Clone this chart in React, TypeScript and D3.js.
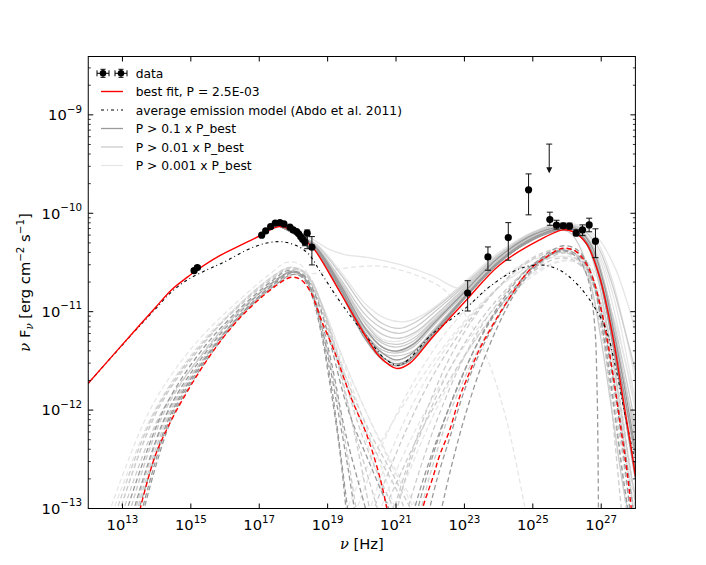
import React from "react";
import * as d3 from "d3";

type P = [number, number];

// ---------- data (log10 nu [Hz], log10 nuFnu [erg cm^-2 s^-1]) ----------
const X_TICK_EXP = [13, 15, 17, 19, 21, 23, 25, 27];
const Y_TICK_EXP = [-13, -12, -11, -10, -9];

// observed points: [log nu, log nuFnu, log lower, log upper]
const syncData: [number, number, number, number][] = [
  [15.095, -10.583, -10.6, -10.565],
  [15.191, -10.552, -10.57, -10.535],
  [17.072, -10.223, -10.223, -10.223],
  [17.188, -10.179, -10.179, -10.179],
  [17.334, -10.135, -10.135, -10.135],
  [17.469, -10.101, -10.101, -10.101],
  [17.606, -10.095, -10.095, -10.095],
  [17.723, -10.108, -10.108, -10.108],
  [17.898, -10.141, -10.141, -10.141],
  [17.994, -10.169, -10.169, -10.169],
  [18.094, -10.186, -10.186, -10.186],
  [18.152, -10.209, -10.209, -10.209],
  [18.21, -10.237, -10.237, -10.237],
  [18.269, -10.263, -10.263, -10.263],
  [18.336, -10.291, -10.33, -10.25],
  [18.403, -10.202, -10.36, -10.17],
  [18.54, -10.345, -10.525, -10.237],
];
const gammaData: [number, number, number, number][] = [
  [23.095, -10.81, -10.993, -10.685],
  [23.688, -10.444, -10.579, -10.342],
  [24.283, -10.247, -10.477, -10.095],
  [24.876, -9.762, -10.016, -9.6],
  [25.498, -10.064, -10.122, -9.989],
  [25.693, -10.121, -10.161, -10.071],
  [25.889, -10.128, -10.155, -10.1],
  [26.073, -10.131, -10.158, -10.1],
  [26.269, -10.202, -10.227, -10.168],
  [26.453, -10.169, -10.227, -10.118],
  [26.648, -10.118, -10.188, -10.05],
  [26.832, -10.284, -10.451, -10.158],
];
// upper limit: [log nu, log top, log arrow tip]
const upperLimit: [number, number, number] = [25.48, -9.297, -9.582];

const bestTotal: P[] = [
  [12.0, -11.728], [13.46, -11.153], [13.947, -10.965], [14.432, -10.779], [14.92, -10.644],
  [15.212, -10.569], [15.796, -10.44], [16.4, -10.335], [17.06, -10.22], [17.31, -10.169],
  [17.6, -10.135], [17.84, -10.152], [18.07, -10.199], [18.33, -10.271], [18.62, -10.372],
  [19.36, -10.8], [20.18, -11.288], [20.53, -11.461], [21.01, -11.576], [21.4, -11.525],
  [22.08, -11.254], [23.06, -10.881], [24.03, -10.525], [25.2, -10.271], [25.88, -10.169],
  [26.17, -10.186], [26.56, -10.304], [26.95, -10.644], [27.34, -11.254], [27.63, -11.865],
  [27.87, -12.373], [28.0, -12.67],
];
const bestSync: P[] = [
  [13.509, -13.015], [13.947, -12.475], [14.432, -12.102], [14.92, -11.797], [15.407, -11.525],
  [15.892, -11.287], [16.38, -11.084], [16.867, -10.915], [17.451, -10.746], [17.936, -10.65],
  [18.228, -10.678], [18.52, -10.813], [18.812, -11.084], [19.182, -11.39], [19.679, -11.868],
  [20.146, -12.254], [20.526, -12.682], [20.73, -12.997], [20.76, -13.05],
];
const bestSSC: P[] = [
  [21.76, -13.05], [21.79, -12.984], [22.082, -12.679], [22.277, -12.458], [22.569, -12.203],
  [22.861, -11.865], [23.057, -11.695], [23.445, -11.38], [23.84, -11.13], [24.225, -10.91],
  [24.905, -10.576], [25.489, -10.423], [25.877, -10.355], [26.268, -10.39],
  [26.657, -10.576], [27.045, -11.049], [27.337, -11.627], [27.582, -12.203], [27.775, -12.679],
  [27.874, -12.984], [27.9, -13.05],
];
const abdoModel: P[] = [
  [12.0, -11.728], [13.46, -11.16], [13.947, -10.98], [14.432, -10.8], [14.92, -10.672],
  [15.5, -10.57], [15.892, -10.51], [16.867, -10.339],
  [17.547, -10.288], [18.035, -10.321], [18.423, -10.406], [18.812, -10.609], [19.396, -10.915],
  [20.137, -11.254], [20.721, -11.491], [21.109, -11.542], [22.082, -11.22], [23.086, -10.949],
  [23.737, -10.746], [24.517, -10.576], [25.197, -10.525], [25.781, -10.576], [26.365, -10.746],
  [26.853, -10.983], [27.145, -11.186], [27.437, -11.593], [27.729, -12.102], [28.0, -12.54],
];

// ensemble: total SEDs (solid)
const totalsP01: P[][] = [
  [[17.6,-10.13],[18.3,-10.25],[18.7,-10.37],[19.4,-10.77],[20.1,-11.22],[20.6,-11.42],[21.0,-11.49],[21.4,-11.44],[22.1,-11.2],[23.0,-10.85],[24.0,-10.49],[25.0,-10.25],[25.8,-10.16],[26.2,-10.17],[26.6,-10.3],[26.95,-10.62],[27.3,-11.15],[27.65,-11.8],[28.0,-12.45]],
  [[17.6,-10.13],[18.3,-10.26],[18.7,-10.38],[19.4,-10.79],[20.1,-11.25],[20.6,-11.46],[21.0,-11.53],[21.4,-11.48],[22.1,-11.22],[23.0,-10.86],[24.0,-10.5],[25.0,-10.27],[25.8,-10.17],[26.2,-10.19],[26.6,-10.33],[26.9,-10.6],[27.25,-11.15],[27.6,-11.85],[27.95,-12.6],[28.0,-12.7]],
  [[17.6,-10.13],[18.3,-10.25],[18.7,-10.36],[19.4,-10.74],[20.1,-11.17],[20.6,-11.36],[21.0,-11.4],[21.5,-11.33],[22.1,-11.12],[23.0,-10.8],[24.0,-10.45],[25.0,-10.22],[25.8,-10.14],[26.3,-10.16],[26.7,-10.32],[27.05,-10.68],[27.4,-11.25],[27.75,-11.9],[28.0,-12.4]],
  [[17.6,-10.13],[18.3,-10.27],[18.7,-10.4],[19.4,-10.82],[20.1,-11.28],[20.6,-11.49],[21.0,-11.55],[21.4,-11.5],[22.1,-11.24],[23.0,-10.87],[24.0,-10.51],[25.0,-10.26],[25.8,-10.15],[26.2,-10.17],[26.6,-10.31],[26.95,-10.65],[27.3,-11.25],[27.6,-11.85],[27.9,-12.45],[28.0,-12.6]],
];
const totalsP001: P[][] = [
  [[17.6,-10.13],[18.3,-10.24],[18.7,-10.33],[19.4,-10.63],[20.1,-10.97],[20.6,-11.12],[21.1,-11.17],[21.6,-11.1],[22.2,-10.95],[23.0,-10.72],[24.0,-10.42],[25.0,-10.2],[25.7,-10.11],[26.2,-10.13],[26.6,-10.27],[27.0,-10.6],[27.4,-11.15],[27.8,-11.8],[28.0,-12.15]],
  [[17.6,-10.13],[18.3,-10.25],[18.7,-10.35],[19.4,-10.68],[20.1,-11.03],[20.6,-11.17],[21.1,-11.22],[21.6,-11.15],[22.2,-10.98],[23.0,-10.74],[24.0,-10.44],[25.0,-10.22],[25.8,-10.13],[26.3,-10.16],[26.7,-10.35],[27.05,-10.75],[27.4,-11.35],[27.75,-12.0],[28.0,-12.5]],
  [[17.6,-10.13],[18.3,-10.25],[18.7,-10.36],[19.4,-10.71],[20.1,-11.08],[20.6,-11.23],[21.1,-11.27],[21.6,-11.2],[22.2,-11.02],[23.0,-10.76],[24.0,-10.43],[25.0,-10.2],[25.8,-10.12],[26.3,-10.14],[26.75,-10.33],[27.15,-10.78],[27.55,-11.45],[27.9,-12.1],[28.0,-12.3]],
  [[17.6,-10.13],[18.3,-10.26],[18.7,-10.37],[19.4,-10.75],[20.1,-11.16],[20.6,-11.32],[21.0,-11.36],[21.5,-11.3],[22.1,-11.1],[23.0,-10.8],[24.0,-10.46],[25.0,-10.23],[25.8,-10.14],[26.25,-10.17],[26.6,-10.33],[26.9,-10.66],[27.2,-11.2],[27.5,-11.85],[27.8,-12.5],[28.0,-12.9]],
  [[17.6,-10.13],[18.3,-10.26],[18.7,-10.38],[19.4,-10.78],[20.1,-11.22],[20.6,-11.39],[21.0,-11.42],[21.5,-11.36],[22.1,-11.14],[23.0,-10.82],[24.0,-10.47],[25.0,-10.24],[25.8,-10.15],[26.3,-10.18],[26.7,-10.38],[27.1,-10.85],[27.5,-11.55],[27.85,-12.2],[28.0,-12.45]],
  [[17.6,-10.13],[18.3,-10.27],[18.7,-10.39],[19.4,-10.8],[20.1,-11.25],[20.6,-11.42],[21.0,-11.45],[21.5,-11.4],[22.1,-11.18],[23.0,-10.84],[24.0,-10.48],[25.0,-10.25],[25.8,-10.16],[26.3,-10.2],[26.8,-10.45],[27.2,-10.95],[27.6,-11.6],[28.0,-12.2]],
  [[17.6,-10.13],[18.3,-10.25],[18.7,-10.36],[19.4,-10.72],[20.1,-11.12],[20.6,-11.3],[21.1,-11.33],[21.6,-11.25],[22.2,-11.05],[23.0,-10.78],[24.0,-10.45],[25.0,-10.21],[25.9,-10.12],[26.4,-10.15],[26.9,-10.34],[27.3,-10.7],[27.7,-11.2],[28.0,-11.6]],
  [[17.6,-10.13],[18.3,-10.26],[18.7,-10.37],[19.4,-10.76],[20.1,-11.19],[20.6,-11.36],[21.0,-11.4],[21.5,-11.34],[22.1,-11.12],[23.0,-10.8],[24.0,-10.46],[25.0,-10.24],[25.7,-10.17],[26.1,-10.2],[26.45,-10.4],[26.75,-10.8],[27.05,-11.4],[27.35,-12.1],[27.65,-12.8],[27.8,-13.05]],
];
const totalsP0001: P[][] = [
  [[17.6,-10.13],[18.3,-10.22],[18.6,-10.27],[19.0,-10.36],[19.5,-10.42],[20.2,-10.45],[21.1,-10.52],[22.1,-10.64],[22.8,-10.76],[23.3,-10.72],[24.0,-10.5],[25.0,-10.26],[25.8,-10.15],[26.4,-10.14],[26.9,-10.25],[27.4,-10.55],[27.8,-10.95],[28.0,-11.19]],
  [[17.6,-10.13],[18.3,-10.24],[18.7,-10.32],[19.4,-10.6],[20.1,-10.92],[20.7,-11.07],[21.3,-11.1],[21.8,-11.03],[22.4,-10.88],[23.0,-10.7],[24.0,-10.4],[25.0,-10.19],[25.8,-10.11],[26.4,-10.13],[26.9,-10.3],[27.3,-10.65],[27.7,-11.2],[28.0,-11.7]],
  [[17.6,-10.13],[18.3,-10.25],[18.7,-10.35],[19.4,-10.7],[20.1,-11.1],[20.6,-11.28],[21.1,-11.3],[21.6,-11.22],[22.2,-11.03],[23.0,-10.77],[24.0,-10.44],[25.0,-10.22],[25.8,-10.13],[26.4,-10.15],[26.9,-10.38],[27.4,-10.9],[27.8,-11.55],[28.0,-11.9]],
  [[17.6,-10.13],[18.3,-10.27],[18.7,-10.4],[19.4,-10.8],[20.1,-11.27],[20.6,-11.47],[21.0,-11.5],[21.5,-11.43],[22.1,-11.2],[23.0,-10.85],[24.0,-10.49],[25.0,-10.25],[25.8,-10.15],[26.4,-10.18],[26.9,-10.42],[27.35,-10.95],[27.7,-11.5],[28.0,-12.0]],
];

// ensemble: components (dashed)
const compsP01: P[][] = [
  [[13.3,-13.05],[14.3,-12.03],[15.4,-11.43],[16.4,-11.02],[17.4,-10.7],[17.9,-10.6],[18.25,-10.63],[18.55,-10.82],[18.85,-11.25],[19.15,-11.85],[19.4,-12.5],[19.6,-13.05]],
  [[13.55,-13.05],[14.4,-12.08],[15.4,-11.5],[16.4,-11.05],[17.4,-10.72],[17.95,-10.59],[18.3,-10.63],[18.6,-10.85],[18.95,-11.35],[19.3,-12.0],[19.6,-12.6],[19.8,-13.05]],
  [[13.6,-13.05],[14.45,-12.08],[15.45,-11.5],[16.45,-11.05],[17.5,-10.72],[18.0,-10.62],[18.35,-10.68],[18.7,-10.95],[19.1,-11.5],[19.5,-12.2],[19.95,-12.8],[20.15,-13.05]],
  [[13.45,-13.05],[14.4,-12.05],[15.4,-11.48],[16.4,-11.05],[17.5,-10.7],[18.0,-10.6],[18.35,-10.65],[18.7,-10.88],[19.1,-11.35],[19.6,-12.0],[20.3,-12.6],[20.85,-13.05]],
  [[13.1,-13.05],[14.2,-12.0],[15.3,-11.4],[16.4,-10.98],[17.4,-10.68],[17.85,-10.58],[18.2,-10.62],[18.5,-10.8],[18.8,-11.2],[19.05,-11.7],[19.35,-12.4],[19.55,-13.05]],
  [[21.95,-13.05],[22.2,-12.7],[22.6,-12.25],[23.0,-11.8],[23.5,-11.38],[24.0,-11.05],[24.5,-10.77],[25.0,-10.54],[25.5,-10.39],[25.9,-10.33],[26.3,-10.37],[26.65,-10.55],[26.95,-10.95],[27.3,-11.6],[27.6,-12.3],[27.85,-13.05]],
  [[21.6,-13.05],[22.0,-12.55],[22.5,-12.02],[23.0,-11.6],[23.5,-11.24],[24.0,-10.94],[24.5,-10.7],[25.0,-10.52],[25.5,-10.41],[25.9,-10.38],[26.3,-10.45],[26.6,-10.65],[26.8,-11.1],[26.88,-11.8],[26.92,-13.05]],
  [[22.3,-13.05],[22.6,-12.6],[23.0,-12.08],[23.5,-11.55],[24.0,-11.13],[24.5,-10.8],[25.0,-10.57],[25.5,-10.43],[26.0,-10.36],[26.4,-10.42],[26.75,-10.65],[27.1,-11.15],[27.45,-11.85],[27.8,-12.65],[27.95,-13.05]],
  [[21.5,-13.05],[21.8,-12.7],[22.3,-12.2],[22.8,-11.77],[23.3,-11.38],[23.9,-11.02],[24.5,-10.74],[25.1,-10.52],[25.6,-10.41],[26.0,-10.38],[26.4,-10.45],[26.75,-10.7],[27.05,-11.2],[27.35,-11.9],[27.65,-12.7],[27.8,-13.05]],
];
const compsP001: P[][] = [
  [[12.8,-13.05],[13.9,-12.05],[15.1,-11.42],[16.3,-10.98],[17.4,-10.66],[17.9,-10.56],[18.3,-10.6],[18.7,-10.85],[19.2,-11.4],[19.7,-12.1],[20.2,-12.7],[20.5,-13.05]],
  [[13.0,-13.05],[14.1,-12.05],[15.3,-11.45],[16.4,-11.0],[17.5,-10.68],[18.0,-10.57],[18.4,-10.62],[18.8,-10.9],[19.35,-11.5],[19.95,-12.2],[20.6,-12.75],[21.0,-13.05]],
  [[13.4,-13.05],[14.35,-12.05],[15.4,-11.46],[16.45,-11.03],[17.55,-10.7],[18.05,-10.6],[18.45,-10.66],[18.85,-10.95],[19.3,-11.5],[19.7,-12.1],[20.0,-12.6],[20.25,-13.05]],
  [[12.9,-13.05],[14.0,-12.02],[15.2,-11.4],[16.3,-10.97],[17.4,-10.64],[17.9,-10.55],[18.3,-10.6],[18.75,-10.9],[19.4,-11.55],[20.2,-12.2],[20.9,-12.65],[21.5,-13.05]],
  [[13.2,-13.05],[14.2,-12.04],[15.3,-11.44],[16.4,-11.0],[17.5,-10.68],[17.95,-10.6],[18.3,-10.65],[18.6,-10.88],[19.0,-11.4],[19.35,-12.0],[19.65,-12.6],[19.85,-13.05]],
  [[13.35,-13.05],[14.3,-12.05],[15.4,-11.47],[16.45,-11.04],[17.55,-10.71],[18.05,-10.62],[18.4,-10.68],[18.8,-11.0],[19.5,-11.7],[20.3,-12.35],[21.0,-12.8],[21.3,-13.05]],
  [[20.9,-13.05],[21.3,-12.6],[21.9,-12.0],[22.6,-11.45],[23.3,-11.05],[24.0,-10.75],[24.7,-10.52],[25.3,-10.4],[25.8,-10.36],[26.2,-10.4],[26.6,-10.58],[26.95,-10.95],[27.3,-11.55],[27.65,-12.3],[27.95,-13.05]],
  [[21.3,-13.05],[21.7,-12.6],[22.2,-12.1],[22.8,-11.6],[23.4,-11.2],[24.0,-10.9],[24.6,-10.65],[25.2,-10.48],[25.7,-10.4],[26.1,-10.42],[26.5,-10.57],[26.85,-10.95],[27.2,-11.6],[27.5,-12.35],[27.75,-13.05]],
  [[20.3,-13.05],[20.7,-12.7],[21.3,-12.2],[22.0,-11.7],[22.8,-11.25],[23.6,-10.9],[24.4,-10.62],[25.1,-10.45],[25.7,-10.38],[26.2,-10.42],[26.7,-10.65],[27.1,-11.1],[27.5,-11.8],[27.85,-12.6],[28.0,-12.95]],
  [[21.7,-13.05],[22.0,-12.65],[22.5,-12.1],[23.1,-11.6],[23.7,-11.2],[24.3,-10.88],[24.9,-10.62],[25.5,-10.45],[26.0,-10.4],[26.4,-10.46],[26.75,-10.68],[27.0,-11.1],[27.25,-11.8],[27.45,-12.5],[27.6,-13.05]],
  [[20.6,-13.05],[21.0,-12.75],[21.6,-12.3],[22.3,-11.85],[23.0,-11.45],[23.7,-11.1],[24.4,-10.8],[25.1,-10.57],[25.7,-10.46],[26.2,-10.48],[26.6,-10.62],[27.0,-10.95],[27.4,-11.5],[27.8,-12.2],[28.0,-12.6]],
  [[21.0,-13.05],[21.4,-12.55],[22.0,-12.0],[22.7,-11.5],[23.4,-11.12],[24.1,-10.82],[24.8,-10.58],[25.4,-10.44],[25.9,-10.4],[26.3,-10.44],[26.7,-10.65],[27.0,-11.05],[27.3,-11.7],[27.6,-12.4],[27.85,-13.05]],
];
const compsP0001: P[][] = [
  [[12.6,-13.05],[13.8,-12.0],[15.0,-11.38],[16.2,-10.95],[17.3,-10.62],[17.8,-10.5],[18.2,-10.52],[18.6,-10.75],[19.3,-11.35],[20.1,-12.0],[20.9,-12.55],[21.7,-13.05]],
  [[12.9,-13.05],[14.0,-12.0],[15.2,-11.4],[16.3,-10.97],[17.4,-10.65],[17.9,-10.55],[18.35,-10.6],[18.8,-10.9],[19.6,-11.6],[20.5,-12.3],[21.3,-12.85],[21.6,-13.05]],
  [[13.2,-13.05],[14.2,-12.03],[15.3,-11.45],[16.4,-11.0],[17.5,-10.68],[18.0,-10.58],[18.4,-10.63],[18.9,-10.98],[19.5,-11.55],[20.1,-12.15],[20.7,-12.7],[21.0,-13.05]],
  [[12.7,-13.05],[13.9,-12.03],[15.1,-11.4],[16.3,-10.96],[17.4,-10.64],[17.9,-10.55],[18.3,-10.59],[18.7,-10.82],[19.2,-11.3],[19.8,-11.95],[20.4,-12.6],[20.8,-13.05]],
  [[18.3,-10.62],[18.9,-10.6],[19.45,-10.56],[20.6,-10.54],[21.6,-10.63],[22.3,-10.75],[22.8,-10.92],[23.3,-11.2],[23.8,-11.6],[24.3,-12.2],[24.8,-13.05]],
  [[19.8,-13.05],[20.3,-12.6],[21.0,-12.05],[21.8,-11.55],[22.6,-11.15],[23.5,-10.82],[24.4,-10.58],[25.2,-10.45],[25.9,-10.4],[26.4,-10.44],[26.9,-10.65],[27.4,-11.1],[27.8,-11.65],[28.0,-11.95]],
  [[20.2,-13.05],[20.7,-12.55],[21.4,-12.0],[22.2,-11.5],[23.0,-11.12],[23.8,-10.82],[24.6,-10.6],[25.3,-10.48],[25.9,-10.44],[26.4,-10.5],[26.8,-10.72],[27.2,-11.15],[27.6,-11.8],[28.0,-12.5]],
  [[20.5,-13.05],[20.9,-12.7],[21.5,-12.25],[22.2,-11.8],[23.0,-11.35],[23.8,-11.0],[24.6,-10.72],[25.3,-10.55],[25.9,-10.48],[26.4,-10.52],[26.8,-10.7],[27.2,-11.1],[27.6,-11.7],[28.0,-12.4]],
  [[19.5,-13.05],[19.9,-12.75],[20.6,-12.3],[21.4,-11.85],[22.3,-11.4],[23.2,-11.02],[24.1,-10.72],[25.0,-10.52],[25.7,-10.44],[26.3,-10.46],[26.8,-10.62],[27.3,-11.0],[27.7,-11.5],[28.0,-11.9]],
  [[20.9,-13.05],[21.3,-12.7],[21.9,-12.2],[22.6,-11.7],[23.3,-11.3],[24.0,-10.98],[24.7,-10.72],[25.4,-10.55],[26.0,-10.48],[26.5,-10.55],[26.9,-10.8],[27.25,-11.3],[27.6,-12.0],[27.9,-12.8],[28.0,-13.05]],
];

const legendLabels = [
  "data",
  "best fit, P = 2.5E-03",
  "average emission model (Abdo et al. 2011)",
  "P > 0.1 x P_best",
  "P > 0.01 x P_best",
  "P > 0.001 x P_best",
];

// ---------- layout ----------
const W = 706, H = 565;
const L = 88.25, R = 635.4, T = 56.5, B = 508.5;
const FONT = "DejaVu Sans, Liberation Sans, sans-serif";
const C01 = "#9a9a9a", C001 = "#cccccc", C0001 = "#e6e6e6";
const RED = "#ff0000";

const x = d3.scaleLog().domain([1e12, 1e28]).range([L, R]);
const y = d3.scaleLog().domain([1e-13, Math.pow(10, -8.407)]).range([B, T]);
const X = (e: number) => x(Math.pow(10, e));
const Y = (e: number) => y(Math.pow(10, e));
const line = d3
  .line<P>()
  .x((d) => X(d[0]))
  .y((d) => Y(d[1]))
  .curve(d3.curveCatmullRom.alpha(0.5));

const DASH = "5,3";
const DASHDOT = "3,3,1,3";

export default function App() {
  const yMinor: number[] = [];
  for (let e = -13; e <= -9; e++) {
    for (let m = 2; m <= 9; m++) {
      const v = m * Math.pow(10, e);
      if (v < Math.pow(10, -8.407)) yMinor.push(v);
    }
  }
  const cap = 3;
  const errBar = (d: [number, number, number, number], i: number) => {
    const cx = X(d[0]);
    const lo = Y(d[2]);
    const hi = Y(d[3]);
    return (
      <g key={i}>
        {Math.abs(lo - hi) > 1 && (
          <g stroke="#111" strokeWidth={1}>
            <line x1={cx} x2={cx} y1={lo} y2={hi} />
            <line x1={cx - cap} x2={cx + cap} y1={lo} y2={lo} />
            <line x1={cx - cap} x2={cx + cap} y1={hi} y2={hi} />
          </g>
        )}
        <circle cx={cx} cy={Y(d[1])} r={3.6} fill="#000" />
      </g>
    );
  };
  const ulx = X(upperLimit[0]);
  const ulTop = Y(upperLimit[1]);
  const ulTip = Y(upperLimit[2]);

  const legY = [73.3, 91.5, 110, 128.5, 147, 165.5];
  const hx1 = 101, hx2 = 123;
  const legendMarker = (cx: number, cy: number, k: number) => (
    <g key={k} stroke="#000" strokeWidth={1}>
      <line x1={cx - 6} x2={cx + 6} y1={cy} y2={cy} />
      <line x1={cx - 6} x2={cx - 6} y1={cy - 3} y2={cy + 3} />
      <line x1={cx + 6} x2={cx + 6} y1={cy - 3} y2={cy + 3} />
      <line x1={cx} x2={cx} y1={cy - 4} y2={cy + 4} />
      <line x1={cx - 2.5} x2={cx + 2.5} y1={cy - 4} y2={cy - 4} />
      <line x1={cx - 2.5} x2={cx + 2.5} y1={cy + 4} y2={cy + 4} />
      <circle cx={cx} cy={cy} r={3.3} fill="#000" stroke="none" />
    </g>
  );

  return (
    <svg
      width={W}
      height={H}
      viewBox={`0 0 ${W} ${H}`}
      style={{ position: "absolute", left: 0, top: 0, background: "#fff" }}
      fontFamily={FONT}
    >
      <defs>
        <clipPath id="plotclip">
          <rect x={L} y={T} width={R - L} height={B - T} />
        </clipPath>
      </defs>
      <rect x={0} y={0} width={W} height={H} fill="#fff" />
      <g clipPath="url(#plotclip)" fill="none">
        {compsP0001.map((c, i) => (
          <path key={"c3" + i} d={line(c) || ""} stroke={C0001} strokeWidth={1.3} strokeDasharray={DASH} />
        ))}
        {totalsP0001.map((c, i) => (
          <path key={"t3" + i} d={line(c) || ""} stroke={C0001} strokeWidth={1.3} />
        ))}
        {compsP001.map((c, i) => (
          <path key={"c2" + i} d={line(c) || ""} stroke={C001} strokeWidth={1.3} strokeDasharray={DASH} />
        ))}
        {totalsP001.map((c, i) => (
          <path key={"t2" + i} d={line(c) || ""} stroke={C001} strokeWidth={1.3} />
        ))}
        {compsP01.map((c, i) => (
          <path key={"c1" + i} d={line(c) || ""} stroke={C01} strokeWidth={1.3} strokeDasharray={DASH} />
        ))}
        {totalsP01.map((c, i) => (
          <path key={"t1" + i} d={line(c) || ""} stroke={C01} strokeWidth={1.3} />
        ))}
        <path d={line(bestSync) || ""} stroke={RED} strokeWidth={1.4} strokeDasharray={DASH} />
        <path d={line(bestSSC) || ""} stroke={RED} strokeWidth={1.4} strokeDasharray={DASH} />
        <path d={line(abdoModel) || ""} stroke="#000" strokeWidth={1.1} strokeDasharray={DASHDOT} />
        <path d={line(bestTotal) || ""} stroke={RED} strokeWidth={1.4} />
        {syncData.map(errBar)}
        {gammaData.map((d, i) => errBar(d, i + 100))}
        <g stroke="#111" strokeWidth={1}>
          <line x1={ulx} x2={ulx} y1={ulTop} y2={ulTip} />
          <line x1={ulx - cap} x2={ulx + cap} y1={ulTop} y2={ulTop} />
        </g>
        <path d={`M${ulx - 3},${ulTip - 5} L${ulx + 3},${ulTip - 5} L${ulx},${ulTip + 1} Z`} fill="#111" />
      </g>

      {/* frame */}
      <rect x={L} y={T} width={R - L} height={B - T} fill="none" stroke="#000" strokeWidth={1} />

      {/* x ticks */}
      {X_TICK_EXP.map((e) => {
        const px = X(e);
        return (
          <g key={"xt" + e}>
            <line x1={px} x2={px} y1={B} y2={B - 5} stroke="#000" strokeWidth={1} />
            <line x1={px} x2={px} y1={T} y2={T + 5} stroke="#000" strokeWidth={1} />
            <text x={px} y={530} fontSize={14.7} textAnchor="middle" fill="#000">
              10
              <tspan fontSize={10.3} dy={-7.5}>
                {e}
              </tspan>
            </text>
          </g>
        );
      })}
      {/* y ticks */}
      {Y_TICK_EXP.map((e) => {
        const py = Y(e);
        return (
          <g key={"yt" + e}>
            <line x1={L} x2={L + 5} y1={py} y2={py} stroke="#000" strokeWidth={1} />
            <line x1={R} x2={R - 5} y1={py} y2={py} stroke="#000" strokeWidth={1} />
            <text x={82} y={py + 5.3} fontSize={14.7} textAnchor="end" fill="#000">
              10
              <tspan fontSize={10.3} dy={-7.5}>
                {"\u2212" + Math.abs(e)}
              </tspan>
            </text>
          </g>
        );
      })}
      {yMinor.map((v, i) => {
        const py = y(v);
        return (
          <g key={"ym" + i} stroke="#000" strokeWidth={0.8}>
            <line x1={L} x2={L + 2.5} y1={py} y2={py} />
            <line x1={R} x2={R - 2.5} y1={py} y2={py} />
          </g>
        );
      })}

      {/* axis labels */}
      <text x={(L + R) / 2} y={549} fontSize={14.7} textAnchor="middle" fill="#000">
        <tspan fontStyle="italic" fontFamily="DejaVu Serif, serif">ν</tspan> [Hz]
      </text>
      <text
        transform={`translate(30,${(T + B) / 2}) rotate(-90)`}
        fontSize={14.7}
        textAnchor="middle"
        fill="#000"
      >
        <tspan fontStyle="italic" fontFamily="DejaVu Serif, serif">ν</tspan>
        {" F"}
        <tspan fontSize={10.3} dy={3} fontStyle="italic" fontFamily="DejaVu Serif, serif">ν</tspan>
        <tspan dy={-3}> [erg cm</tspan>
        <tspan fontSize={10.3} dy={-6}>{"\u22122"}</tspan>
        <tspan dy={6}> s</tspan>
        <tspan fontSize={10.3} dy={-6}>{"\u22121"}</tspan>
        <tspan dy={6}>]</tspan>
      </text>

      {/* legend */}
      <g fontSize={12.3} fill="#000">
        {legendMarker(hx1 + 2, legY[0], 0)}
        {legendMarker(hx2 - 2, legY[0], 1)}
        <line x1={hx1} x2={hx2} y1={legY[1]} y2={legY[1]} stroke={RED} strokeWidth={1.4} />
        <line x1={hx1} x2={hx2} y1={legY[2]} y2={legY[2]} stroke="#000" strokeWidth={1.1} strokeDasharray={DASHDOT} />
        <line x1={hx1} x2={hx2} y1={legY[3]} y2={legY[3]} stroke={C01} strokeWidth={1.3} />
        <line x1={hx1} x2={hx2} y1={legY[4]} y2={legY[4]} stroke={C001} strokeWidth={1.3} />
        <line x1={hx1} x2={hx2} y1={legY[5]} y2={legY[5]} stroke={C0001} strokeWidth={1.3} />
        {legendLabels.map((s, i) => (
          <text key={"lg" + i} x={135.7} y={legY[i] + 4.5}>
            {s}
          </text>
        ))}
      </g>
    </svg>
  );
}
